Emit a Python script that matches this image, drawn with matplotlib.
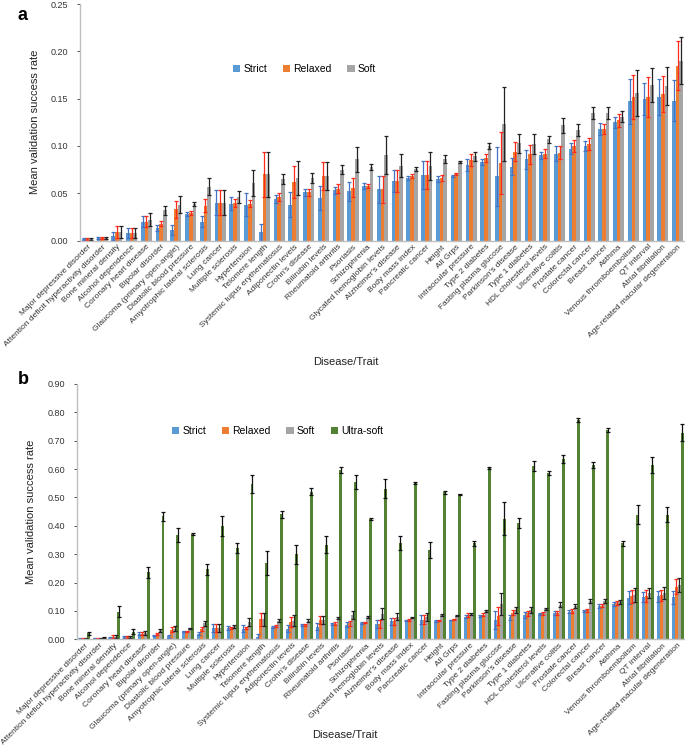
import numpy as np
import matplotlib
matplotlib.use("Agg")
import matplotlib.pyplot as plt

traits = [
    "Major depressive disorder", "Attention deficit hyperactivity disorder",
    "Bone mineral density", "Alcohol dependence", "Coronary heart disease",
    "Bipolar disorder", "Glaucoma (primary open-angle)", "Diastolic blood pressure",
    "Amyotrophic lateral sclerosis", "Lung cancer", "Multiple sclerosis",
    "Hypertension", "Telomere length", "Systemic lupus erythematosus",
    "Adiponectin levels", "Crohn's disease", "Bilirubin levels",
    "Rheumatoid arthritis", "Psoriasis", "Schizophrenia",
    "Glycated hemoglobin levels", "Alzheimer's disease", "Body mass index",
    "Pancreatic cancer", "Height", "All Grps", "Intraocular pressure",
    "Type 2 diabetes", "Fasting plasma glucose", "Parkinson's disease",
    "Type 1 diabetes", "HDL cholesterol levels", "Ulcerative colitis",
    "Prostate cancer", "Colorectal cancer", "Breast cancer", "Asthma",
    "Venous thromboembolism", "QT interval", "Atrial fibrillation",
    "Age-related macular degeneration",
]

strict = [0.002, 0.003, 0.005, 0.008, 0.020, 0.013, 0.011, 0.028, 0.020, 0.040,
          0.039, 0.038, 0.009, 0.044, 0.038, 0.051, 0.045, 0.053, 0.052, 0.058,
          0.054, 0.063, 0.066, 0.069, 0.065, 0.068, 0.080, 0.083, 0.068, 0.078,
          0.086, 0.090, 0.092, 0.097, 0.100, 0.118, 0.125, 0.147, 0.150, 0.152,
          0.148]
strict_err = [0.001, 0.001, 0.004, 0.005, 0.006, 0.003, 0.005, 0.002, 0.006, 0.013,
              0.007, 0.012, 0.009, 0.004, 0.013, 0.004, 0.013, 0.004, 0.010, 0.003,
              0.014, 0.012, 0.002, 0.015, 0.003, 0.001, 0.006, 0.003, 0.031, 0.009,
              0.010, 0.004, 0.008, 0.006, 0.005, 0.006, 0.006, 0.024, 0.017, 0.019,
              0.022]
relaxed = [0.002, 0.003, 0.009, 0.008, 0.020, 0.018, 0.033, 0.029, 0.037, 0.040,
           0.040, 0.039, 0.070, 0.046, 0.062, 0.051, 0.068, 0.055, 0.056, 0.058,
           0.054, 0.063, 0.068, 0.069, 0.066, 0.070, 0.085, 0.087, 0.082, 0.094,
           0.091, 0.092, 0.093, 0.100, 0.102, 0.118, 0.127, 0.152, 0.152, 0.155,
           0.185]
relaxed_err = [0.001, 0.001, 0.006, 0.005, 0.006, 0.003, 0.009, 0.002, 0.007, 0.013,
               0.004, 0.004, 0.024, 0.004, 0.017, 0.004, 0.015, 0.005, 0.010, 0.002,
               0.014, 0.012, 0.002, 0.015, 0.003, 0.001, 0.006, 0.004, 0.033, 0.010,
               0.010, 0.005, 0.007, 0.006, 0.006, 0.005, 0.007, 0.023, 0.021, 0.019,
               0.026]
soft = [0.002, 0.003, 0.009, 0.008, 0.022, 0.032, 0.038, 0.039, 0.057, 0.040,
        0.046, 0.061, 0.070, 0.065, 0.066, 0.066, 0.068, 0.075, 0.086, 0.078,
        0.090, 0.079, 0.076, 0.079, 0.086, 0.083, 0.089, 0.100, 0.123, 0.103,
        0.102, 0.107, 0.122, 0.117, 0.135, 0.135, 0.131, 0.156, 0.164, 0.163,
        0.190]
soft_err = [0.001, 0.001, 0.006, 0.005, 0.007, 0.005, 0.009, 0.002, 0.009, 0.013,
            0.006, 0.014, 0.024, 0.005, 0.018, 0.005, 0.015, 0.005, 0.013, 0.003,
            0.020, 0.012, 0.002, 0.015, 0.004, 0.001, 0.005, 0.003, 0.039, 0.010,
            0.011, 0.004, 0.008, 0.006, 0.006, 0.006, 0.006, 0.024, 0.018, 0.020,
            0.025]
ultra_soft = [0.021, 0.006, 0.097, 0.027, 0.236, 0.433, 0.367, 0.371, 0.247, 0.400,
              0.321, 0.547, 0.269, 0.441, 0.300, 0.521, 0.334, 0.596, 0.554, 0.424,
              0.531, 0.340, 0.551, 0.314, 0.518, 0.511, 0.338, 0.605, 0.425, 0.409,
              0.611, 0.587, 0.636, 0.772, 0.614, 0.739, 0.338, 0.439, 0.615, 0.439,
              0.729]
ultra_soft_err = [0.005, 0.003, 0.020, 0.010, 0.020, 0.015, 0.025, 0.004, 0.019, 0.035,
                  0.018, 0.032, 0.044, 0.012, 0.033, 0.012, 0.031, 0.011, 0.025, 0.004,
                  0.034, 0.024, 0.004, 0.028, 0.006, 0.002, 0.009, 0.004, 0.059, 0.018,
                  0.018, 0.008, 0.013, 0.007, 0.010, 0.007, 0.008, 0.034, 0.027, 0.027,
                  0.030]

BLUE, ORANGE, GRAY, GREEN = "#5B9BD5", "#ED7D31", "#A5A5A5", "#548235"
ERR_COLORS = {"Strict": "#4472C4", "Relaxed": "#FF2A1A", "Soft": "#222222",
              "Ultra-soft": "#111111"}

plt.rcParams['font.family'] = ['Liberation Sans', 'DejaVu Sans']

fig = plt.figure(figsize=(6.85, 7.48), dpi=100)
ax_a = fig.add_axes([80 / 685, 1 - 240.6 / 748, 605 / 685, 236.6 / 748])
ax_b = fig.add_axes([77 / 685, 1 - 639.3 / 748, 608 / 685, 255.3 / 748])

x = np.arange(len(traits))


def draw_panel(ax, series, width, ymax, ystep, legend_pos):
    n = len(series)
    for i, (name, vals, errs, col) in enumerate(series):
        off = (i - (n - 1) / 2) * width
        ax.bar(x + off, vals, width, color=col, label=name, linewidth=0,
               yerr=errs, ecolor=ERR_COLORS[name],
               error_kw=dict(elinewidth=0.9, capsize=1.3, capthick=0.9))
    ax.set_xlim(-0.5, len(traits) - 0.5)
    ax.set_ylim(0, ymax)
    ax.set_yticks(np.arange(0, ymax + 1e-9, ystep))
    ax.yaxis.set_major_formatter(matplotlib.ticker.FormatStrFormatter('%.2f'))
    ax.set_xticks(x)
    ax.set_xticklabels(traits, rotation=45, ha='right', rotation_mode='anchor',
                       fontsize=6.0, color='#333333')
    ax.tick_params(axis='y', labelsize=6.5, colors='#333333', length=2.5,
                   width=0.6, pad=6)
    ax.tick_params(axis='x', length=0, pad=2)
    for s in ("top", "right"):
        ax.spines[s].set_visible(False)
    for s in ("left", "bottom"):
        ax.spines[s].set_color('#BFBFBF')
        ax.spines[s].set_linewidth(1.0)
    ax.set_xlabel("Disease/Trait", fontsize=8, color='#222222')
    ax.set_ylabel("Mean validation success rate", fontsize=8, color='#222222',
                  labelpad=8)
    ax.legend(loc='center', bbox_to_anchor=legend_pos, ncol=n, frameon=False,
              fontsize=7.5, handlelength=0.7, handleheight=0.7, handletextpad=0.3,
              columnspacing=1.5)


draw_panel(ax_a, [("Strict", strict, strict_err, BLUE),
                  ("Relaxed", relaxed, relaxed_err, ORANGE),
                  ("Soft", soft, soft_err, GRAY)],
           0.25, 0.25, 0.05, (0.371, 0.725))
ax_a.xaxis.set_label_coords(0.44, -0.49)

draw_panel(ax_b, [("Strict", strict, strict_err, BLUE),
                  ("Relaxed", relaxed, relaxed_err, ORANGE),
                  ("Soft", soft, soft_err, GRAY),
                  ("Ultra-soft", ultra_soft, ultra_soft_err, GREEN)],
           0.2, 0.90, 0.10, (0.33, 0.816))
ax_b.xaxis.set_label_coords(0.44, -0.355)

fig.text(18 / 685, 1 - 20 / 748, "a", fontsize=13, fontweight='bold')
fig.text(18 / 685, 1 - 384 / 748, "b", fontsize=13, fontweight='bold')

fig.savefig("out.png", dpi=100)
